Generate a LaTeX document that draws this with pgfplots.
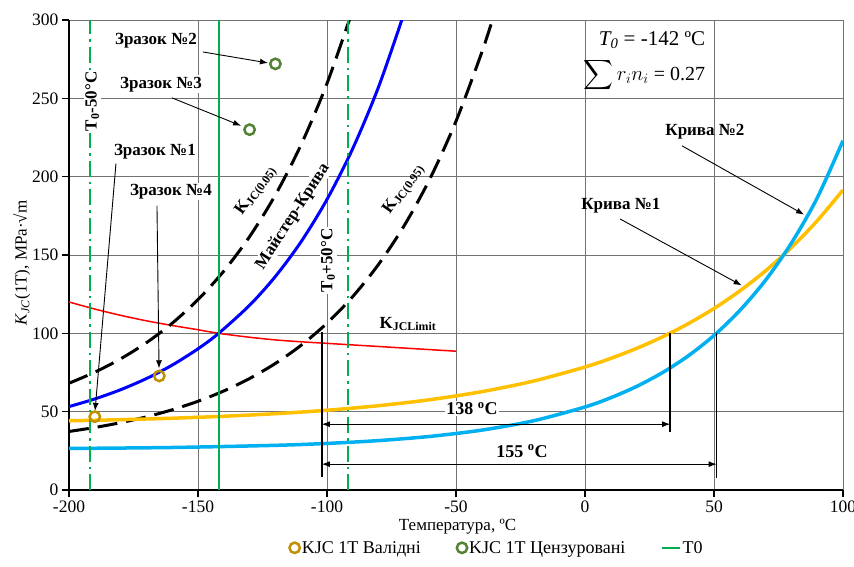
\documentclass[border=0pt]{standalone}
\usepackage{amsmath}
\usepackage{pgfplots}
\pgfplotsset{compat=1.18}
\usepackage{fontspec}
\setmainfont{Liberation Serif}
\usetikzlibrary{arrows.meta}
\definecolor{mblue}{RGB}{0,0,255}
\definecolor{lblue}{RGB}{0,176,240}
\definecolor{cyel}{RGB}{255,192,0}
\definecolor{cgreen}{RGB}{0,176,80}
\definecolor{vgold}{RGB}{191,144,0}
\definecolor{cgreenm}{RGB}{84,130,53}
\begin{document}
\begin{tikzpicture}
\begin{axis}[
 scale only axis, width=774pt, height=470pt,
 xmin=-200, xmax=100, ymin=0, ymax=300,
 xtick={-200,-150,...,100}, ytick={0,50,...,300},
 axis x line*=bottom, axis y line*=left,
 axis line style={line width=2.2pt},
 grid=major, major grid style={black!55, line width=0.8pt},
 tick style={black, line width=1.5pt}, tick align=outside, major tick length=7pt,
 ticklabel style={font=\fontsize{17.5}{20}\selectfont},
 /pgf/number format/assume math mode=true,
 xlabel={Температура, ºC},
 ylabel={\textit{K}\textsubscript{\textit{JC}}(1T), MPa·√m},
 every axis x label/.style={at={(axis description cs:0.502,-0.079)}, anchor=center, font=\fontsize{17}{20}\selectfont},
 every axis y label/.style={at={(axis description cs:-0.061,0.483)}, rotate=90, anchor=center, font=\fontsize{17}{20}\selectfont},
 legend style={at={(0.553,-0.123)}, anchor=center, draw=none, fill=none, legend columns=3,
   font=\fontsize{18}{20}\selectfont, /tikz/every even column/.append style={column sep=34pt}},
]
% red KJC limit
\addplot[red, line width=1.5pt, smooth, forget plot] coordinates {
(-200,120)(-190,115.5)(-180,111.5)(-170,108)(-160,105)(-150,102.3)(-142,100)(-130,97.5)(-120,95.8)(-110,94.6)(-100,93.6)(-90,92.6)(-80,91.6)(-70,90.6)(-60,89.6)(-50,88.6)};
% upper dashed
\addplot[black, line width=3pt, dash pattern=on 20pt off 9pt, smooth, forget plot] coordinates {
(-200,68.15)(-190,75.19)(-180,83.71)(-170,94.00)(-160,106.45)(-150,121.52)(-140,139.72)(-130,161.74)(-120,188.36)(-110,220.56)(-100,259.5)(-90,306.6)};
% lower dashed
\addplot[black, line width=3pt, dash pattern=on 20pt off 9pt, smooth, forget plot] coordinates {
(-200,37.36)(-190,39.90)(-180,42.98)(-170,46.70)(-160,51.20)(-150,56.64)(-140,63.22)(-130,71.17)(-120,80.79)(-110,92.42)(-100,106.49)(-90,123.50)(-80,144.07)(-70,168.95)(-60,199.02)(-50,235.40)(-40,279.38)(-35,304.7)};
% master curve
\addplot[mblue, line width=3pt, smooth, forget plot] coordinates {
(-200,53.25)(-190,58.12)(-180,64.01)(-170,71.12)(-160,79.72)(-150,90.13)(-142,100)(-130,117.93)(-120,136.32)(-110,158.57)(-100,185.48)(-90,218.01)(-80,257.35)(-70,304.9)};
% curve 1 yellow
\addplot[cyel, line width=3.5pt, smooth, forget plot] coordinates {
(-200,44.18)(-180,44.88)(-160,45.82)(-140,47.07)(-120,48.72)(-100,50.91)(-80,53.82)(-60,57.66)(-40,62.77)(-20,69.53)(0,78.5)(10,84.03)(20,90.39)(30,97.72)(40,106.16)(50,115.87)(60,127.06)(70,139.94)(80,154.77)(90,171.85)(100,191.5)};
% curve 2 light blue
\addplot[lblue, line width=3.5pt, smooth, forget plot] coordinates {
(-200,26.51)(-160,27.14)(-120,28.51)(-100,29.73)(-80,31.54)(-60,34.23)(-40,38.23)(-20,44.17)(0,53)(10,58.91)(20,66.12)(30,74.90)(40,85.61)(50,98.66)(60,114.58)(70,133.97)(80,157.61)(90,186.43)(100,223)};
% dash-dot T0 +- 50
\addplot[draw=cgreen, color=cgreen, line width=2pt, dash pattern=on 16pt off 5pt on 2.5pt off 5pt, forget plot] coordinates {(-192,0)(-192,300)};
\addplot[draw=cgreen, color=cgreen, line width=2pt, dash pattern=on 16pt off 5pt on 2.5pt off 5pt, forget plot] coordinates {(-92,0)(-92,300)};
% markers
\addplot[only marks, mark=o, mark size=5.2pt, mark options={line width=2.5pt, draw=vgold}] coordinates {(-190,46.8)(-165,72.8)};
\addlegendentry{KJC 1T Валідні}
\addplot[only marks, mark=o, mark size=5.2pt, mark options={line width=2.5pt, draw=cgreenm}] coordinates {(-120,272)(-130,230)};
\addlegendentry{KJC 1T Цензуровані}
\addplot[cgreen, line width=2pt] coordinates {(-142,0)(-142,300)};
\addlegendentry{T0}
% dimension lines
\draw[black, line width=1.8pt] (axis cs:-102,8.5) -- (axis cs:-102,100.8);
\draw[black, line width=1.8pt] (axis cs:33,37) -- (axis cs:33,100);
\draw[black, line width=1.8pt] (axis cs:51,7.6) -- (axis cs:51,100);
\draw[{Latex[length=8pt,width=6pt]}-{Latex[length=8pt,width=6pt]}, line width=1pt] (axis cs:-102,42) -- (axis cs:33,42);
\draw[{Latex[length=8pt,width=6pt]}-{Latex[length=8pt,width=6pt]}, line width=1pt] (axis cs:-102,16.5) -- (axis cs:51,16.5);
% label arrows
\tikzset{lab/.style={-{Latex[length=8pt,width=6pt]}, line width=0.9pt}}
\draw[lab] (axis cs:-148.1,279.6) -- (axis cs:-122.9,272.6);
\draw[lab] (axis cs:-160.1,250.3) -- (axis cs:-133.3,232.5);
\draw[lab] (axis cs:-181.8,208.3) -- (axis cs:-189.9,50.5);
\draw[lab] (axis cs:-165.9,181.5) -- (axis cs:-165.1,77.7);
\draw[lab] (axis cs:37.6,219.7) -- (axis cs:84.9,175.8);
\draw[lab] (axis cs:13.6,173) -- (axis cs:60.7,130.6);
% labels
\tikzset{bl/.style={font=\bfseries\fontsize{17}{20}\selectfont, fill=white, inner sep=1.5pt}}
\node[bl] at (axis cs:-166.3,287) {Зразок №2};
\node[bl] at (axis cs:-164.3,259) {Зразок №3};
\node[bl] at (axis cs:-166.7,216) {Зразок №1};
\node[bl] at (axis cs:-160.5,190.5) {Зразок №4};
\node[bl, rotate=90] at (axis cs:-191,248) {T\textsubscript{0}-50°C};
\node[bl, rotate=90] at (axis cs:-99.6,146.5) {T\textsubscript{0}+50°C};
\node[bl, rotate=55, fill=none] at (axis cs:-127.5,191) {K\textsubscript{JC(0.05)}};
\node[bl, rotate=57, inner sep=0.5pt] at (axis cs:-113.2,174.5) {Майстер-Крива};
\node[bl, rotate=55, fill=none] at (axis cs:-70.2,192) {K\textsubscript{JC(0.95)}};
\node[bl, fill=none] at (axis cs:-68.6,106) {K\textsubscript{JCLimit}};
\node[bl, fill=none] at (axis cs:46.5,229) {Крива №2};
\node[bl, fill=none] at (axis cs:13.9,181.5) {Крива №1};
\node[bl, font=\bfseries\fontsize{18}{20}\selectfont] at (axis cs:-43.8,52) {138 \textsuperscript{o}C};
\node[bl, font=\bfseries\fontsize{18}{20}\selectfont] at (axis cs:-24.4,24.8) {155 \textsuperscript{o}C};
\node[anchor=east, font=\fontsize{21}{24}\selectfont, inner sep=1pt] at (axis cs:47,287) {\textit{T\textsubscript{0}} = -142 ºC};
\node[anchor=east, font=\fontsize{20}{24}\selectfont, inner sep=1pt] at (axis cs:47,265) {$\displaystyle\sum r_i n_i$ = 0.27};
\end{axis}
\pgfresetboundingbox
\path[use as bounding box] (-69pt,-76pt) rectangle (785pt,490pt);
\end{tikzpicture}
\end{document}
